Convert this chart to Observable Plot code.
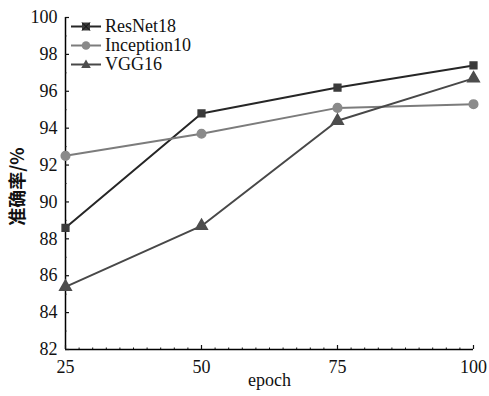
<!DOCTYPE html>
<html><head><meta charset="utf-8">
<script src="https://cdn.jsdelivr.net/npm/d3@7"></script>
<script src="https://cdn.jsdelivr.net/npm/@observablehq/plot@0.6"></script>
<style>
body{margin:0;background:#fff}
#wrap{position:relative;width:489px;height:396px;font-family:"Liberation Serif","Times New Roman",Times,serif}
#legend{position:absolute;left:70px;top:17px;font-size:18px;line-height:19px;color:#111;font-family:"Liberation Serif","Times New Roman",Times,serif}
#legend .row{display:flex;align-items:center;height:19px}
#legend svg{margin-right:3px}
</style>
</head><body><div id="wrap"><div id="legend"></div></div>
<script>
const epochs = [25, 50, 75, 100];
const seriesNames = ["ResNet18", "Inception10", "VGG16"];
const resnet18 = [88.6, 94.8, 96.2, 97.4];
const inception10 = [92.5, 93.7, 95.1, 95.3];
const vgg16 = [85.4, 88.7, 94.4, 96.7];
const xTicks = [25, 50, 75, 100];
const yTicks = [82, 84, 86, 88, 90, 92, 94, 96, 98, 100];
const xMinor = d3.range(25, 100.01, 2.5).filter(v => !xTicks.includes(v));
const yMinor = d3.range(83, 100, 2);

const lineColors = ["#262626", "#7c7c7c", "#484848"];
const markFill = ["#3a3a3a", "#8a8a8a", "#4d4d4d"];
const symbols = ["square", "circle", "triangle"];
const values = [resnet18, inception10, vgg16];

const rows = seriesNames.flatMap((s, i) => epochs.map((e, j) => ({series: s, epoch: e, acc: values[i][j]})));

const serif = "'Liberation Serif', 'Times New Roman', Times, serif";
const marks = [
  Plot.ruleX([d3.min(epochs)], {stroke: "#000", strokeWidth: 1.5}),
  Plot.ruleY([yTicks[0]], {stroke: "#000", strokeWidth: 1.5}),
  Plot.axisX(xTicks, {tickSize: -4, tickPadding: 15, fontSize: 18, label: null, strokeWidth: 1.2, fontFamily: serif}),
  Plot.axisX(xMinor, {tickSize: -1.5, tickFormat: () => "", label: null}),
  Plot.axisY(yTicks, {tickSize: -4, tickPadding: 12, fontSize: 18, label: null, strokeWidth: 1.2, fontFamily: serif}),
  Plot.axisY(yMinor, {tickSize: -1.5, tickFormat: () => "", label: null}),
  Plot.text(["epoch"], {frameAnchor: "bottom", dy: 36, fontSize: 18, fill: "#111", fontFamily: serif}),
  Plot.text(["准确率/%"], {frameAnchor: "left", textAnchor: "middle", dx: -47, dy: 3, rotate: -90, fontSize: 18, fontWeight: "bold", fontFamily: "'Noto Sans CJK SC', sans-serif", fill: "#111"})
];
seriesNames.forEach((s, i) => {
  const d = rows.filter(r => r.series === s);
  marks.push(Plot.line(d, {x: "epoch", y: "acc", stroke: lineColors[i], strokeWidth: 2}));
  marks.push(Plot.dot(d, {x: "epoch", y: "acc", symbol: () => symbols[i], fill: markFill[i], stroke: markFill[i], r: i === 0 ? 3.8 : 4.3}));
});

const chart = Plot.plot({
  width: 489, height: 396,
  marginTop: 17, marginRight: 16, marginBottom: 47, marginLeft: 65,
  style: {fontFamily: serif, fontSize: "18px", color: "#111", background: "#fff"},
  x: {domain: [25, 100], axis: null},
  y: {domain: [82, 100], axis: null},
  marks
});
document.getElementById("wrap").prepend(chart);

// legend
const legend = document.getElementById("legend");
const symPath = [
  "M-4,-4h8v8h-8z",
  null,
  "M0,-5L4.8,3.5L-4.8,3.5Z"
];
seriesNames.forEach((s, i) => {
  const row = document.createElement("div");
  row.className = "row";
  let m = i === 1 ? `<circle cx="16" cy="9.5" r="4.3" fill="${markFill[i]}"/>` :
    `<path transform="translate(16,9.5)" d="${symPath[i]}" fill="${markFill[i]}"/>`;
  if (i === 0) m += `<path transform="translate(16,9.5)" d="M-4,-4L4,4M4,-4L-4,4" stroke="#111" stroke-width="1"/>`;
  row.innerHTML = `<svg width="32" height="19"><line x1="1" x2="31" y1="9.5" y2="9.5" stroke="${lineColors[i]}" stroke-width="2"/>${m}</svg><span>${s}</span>`;
  legend.appendChild(row);
});
</script>
</body></html>
